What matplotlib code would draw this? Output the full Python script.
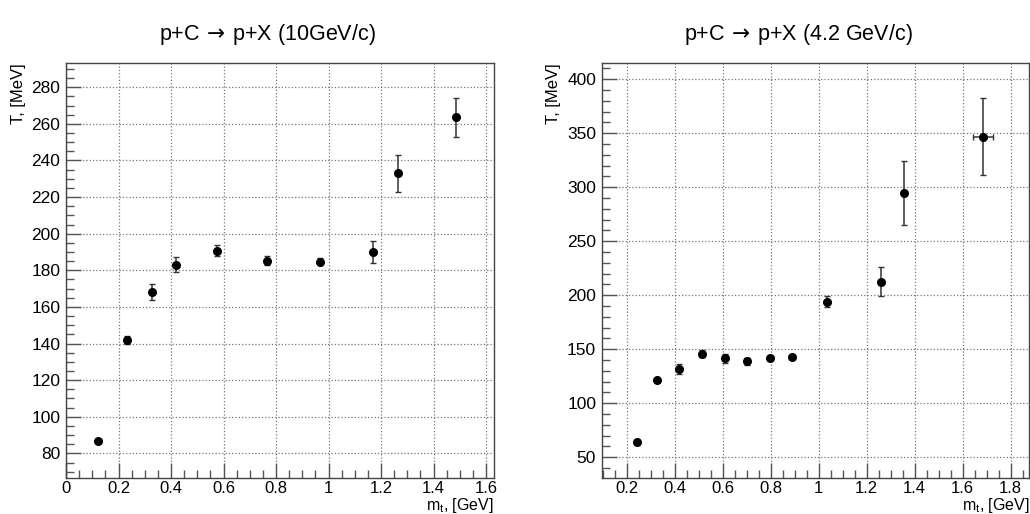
import numpy as np
import matplotlib.pyplot as plt
from matplotlib.ticker import MultipleLocator

plt.rcParams['font.family'] = ['Liberation Sans', 'DejaVu Sans']

# p+C -> p+X at 10 GeV/c
mt_10 = [0.121, 0.231, 0.328, 0.420, 0.575, 0.767, 0.968, 1.170, 1.264, 1.484]
T_10 = [86.7, 141.9, 168.0, 183.0, 190.7, 185.2, 184.7, 190.2, 233.0, 263.6]
dT_10 = [0.8, 2.0, 4.3, 4.2, 3.0, 2.5, 2.0, 6.0, 10.0, 10.7]

# p+C -> p+X at 4.2 GeV/c
mt_42 = [0.242, 0.326, 0.419, 0.514, 0.611, 0.703, 0.798, 0.889, 1.035, 1.258, 1.354, 1.686]
T_42 = [64.2, 121.3, 131.7, 145.9, 141.6, 138.8, 141.6, 142.8, 194.0, 212.5, 294.8, 346.6]
dT_42 = [1.5, 1.5, 5.0, 3.0, 4.0, 3.0, 2.0, 1.5, 5.0, 13.3, 29.8, 35.5]
dmt_42 = [0, 0, 0, 0, 0, 0, 0, 0, 0, 0, 0, 0.042]

fig = plt.figure(figsize=(10.3, 5.14), dpi=100)
ax1 = fig.add_axes([0.0641, 0.0706, 0.4155, 0.806])
ax2 = fig.add_axes([0.5842, 0.0706, 0.4151, 0.806])

panels = [
  (ax1, mt_10, T_10, None, dT_10, "p+C$\\,\\rightarrow\\,$p+X (10GeV/c)", 0.47,
   (0, 1.63), (66.7, 293), 20, 5),
  (ax2, mt_42, T_42, dmt_42, dT_42, "p+C$\\,\\rightarrow\\,$p+X (4.2 GeV/c)", 0.459,
   (0.096, 1.878), (31.1, 414.5), 50, 10),
]

for ax, x, y, xe, ye, title, tx, xl, yl, ymaj, ymin in panels:
  ax.errorbar(x, y, yerr=ye, xerr=xe, fmt="o", color="black", ms=5.5,
              ecolor="#333333", elinewidth=1.1, capsize=2.2, capthick=1.0)
  ax.set_xlim(*xl)
  ax.set_ylim(*yl)
  ax.xaxis.set_major_locator(MultipleLocator(0.2))
  ax.xaxis.set_minor_locator(MultipleLocator(0.05))
  ax.yaxis.set_major_locator(MultipleLocator(ymaj))
  ax.yaxis.set_minor_locator(MultipleLocator(ymin))
  ax.xaxis.set_major_formatter(plt.FuncFormatter(lambda v, p: "%g" % round(v, 2)))
  ax.tick_params(which="both", top=False, right=False)
  ax.tick_params(which="major", direction="in", length=11, width=1.0,
                 color="#555555", labelsize=12.5, pad=4)
  ax.tick_params(axis="x", which="major", labelsize=12, pad=2.5)
  ax.tick_params(which="minor", direction="in", length=6, width=1.0, color="#555555")
  ax.grid(True, which="major", linestyle=":", color="#777777", linewidth=0.9)
  for s in ax.spines.values():
    s.set_color("#444444")
    s.set_linewidth(1.0)
  ax.set_title(title, fontsize=15.5, x=tx, pad=17)
  ax.set_ylabel("T, [MeV]", fontsize=12, loc="top", labelpad=4)
  ax.set_xlabel("m$_\\mathregular{t}$, [GeV]", fontsize=11.5, loc="right")
  ax.xaxis.set_label_coords(1.0, -0.045)

plt.savefig("out.png", dpi=100)
